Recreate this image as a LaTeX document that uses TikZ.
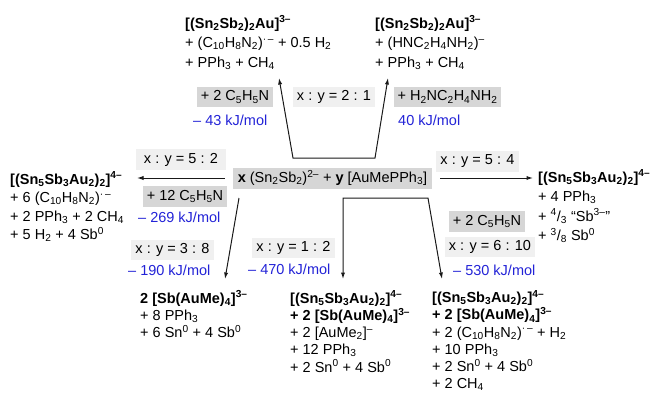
\documentclass[tikz,border=0pt]{standalone}
\usepackage{fontspec}
\setmainfont{Liberation Sans}
\usetikzlibrary{arrows.meta}
\newcommand\sbs[1]{\textsubscript{#1}}
\newcommand\sps[1]{\textsuperscript{#1}}
\newcommand\firstline{\rule{0pt}{14pt}}
\definecolor{kjblue}{RGB}{35,35,215}
\definecolor{boxdark}{RGB}{214,214,214}
\definecolor{boxlight}{RGB}{240,240,240}
\definecolor{linecol}{RGB}{25,25,25}
\begin{document}
\begin{tikzpicture}[x=1pt,y=-1pt,
  font=\fontsize{14.5}{18.5}\selectfont,
  tip/.tip={Latex[length=6.5pt,width=4.2pt]},
  conn/.style={draw=linecol, line width=1pt, -tip},
  conn2/.style={draw=linecol, line width=1pt, tip-tip},
  reag/.style={fill=boxdark, inner xsep=4pt, inner ysep=0pt, minimum height=21pt},
  ratiobox/.style={fill=boxlight, inner xsep=4pt, inner ysep=0pt, minimum height=20pt},
  energy/.style={text=kjblue, anchor=west, inner sep=0pt},
  prod/.style={anchor=north west, align=left, inner sep=0pt},
  top3/.style={font=\fontsize{14.5}{19.5}\selectfont},
  bot/.style={font=\fontsize{14.5}{17.2}\selectfont},
]
\useasboundingbox (0,0) rectangle (657,394);

% central reactants
\node[reag, minimum width=199pt] (c) at (332.5,178)
  {\textbf{x} (Sn\sbs{2}Sb\sbs{2})\sps{2–} + \textbf{y} [AuMePPh\sbs{3}]};

% products
\node[prod, top3] (ptl) at (185,14) {\firstline\textbf{[(Sn\sbs{2}Sb\sbs{2})\sbs{2}Au]\sps{3–}}\\
  + (C\sbs{10}H\sbs{8}N\sbs{2})\sps{·\,–} + 0.5 H\sbs{2}\\
  + PPh\sbs{3} + CH\sbs{4}};
\node[prod, top3] (ptr) at (375,14) {\firstline\textbf{[(Sn\sbs{2}Sb\sbs{2})\sbs{2}Au]\sps{3–}}\\
  + (HNC\sbs{2}H\sbs{4}NH\sbs{2})\sps{–}\\
  + PPh\sbs{3} + CH\sbs{4}};
\node[prod] (pl) at (10,170) {\firstline\textbf{[(Sn\sbs{5}Sb\sbs{3}Au\sbs{2})\sbs{2}]\sps{4–}}\\
  + 6 (C\sbs{10}H\sbs{8}N\sbs{2})\sps{·\,–}\\
  + 2 PPh\sbs{3} + 2 CH\sbs{4}\\
  + 5 H\sbs{2} + 4 Sb\sps{0}};
\node[prod, top3] (pr) at (538,168) {\firstline\textbf{[(Sn\sbs{5}Sb\sbs{3}Au\sbs{2})\sbs{2}]\sps{4–}}\\
  + 4 PPh\sbs{3}\\
  + \sps{4}/\sbs{3} “Sb\sps{3–}”\\
  + \sps{3}/\sbs{8} Sb\sps{0}};
\node[prod, bot] (pb1) at (140,289) {\firstline\textbf{2 [Sb(AuMe)\sbs{4}]\sps{3–}}\\
  + 8 PPh\sbs{3}\\
  + 6 Sn\sps{0} + 4 Sb\sps{0}};
\node[prod, bot] (pb2) at (290,289) {\firstline\textbf{[(Sn\sbs{5}Sb\sbs{3}Au\sbs{2})\sbs{2}]\sps{4–}}\\
  \textbf{+ 2 [Sb(AuMe)\sbs{4}]\sps{3–}}\\
  + 2 [AuMe\sbs{2}]\sps{–}\\
  + 12 PPh\sbs{3}\\
  + 2 Sn\sps{0} + 4 Sb\sps{0}};
\node[prod, bot] (pb3) at (432,288.5) {\firstline\textbf{[(Sn\sbs{5}Sb\sbs{3}Au\sbs{2})\sbs{2}]\sps{4–}}\\
  \textbf{+ 2 [Sb(AuMe)\sbs{4}]\sps{3–}}\\
  + 2 (C\sbs{10}H\sbs{8}N\sbs{2})\sps{·\,–} + H\sbs{2}\\
  + 10 PPh\sbs{3}\\
  + 2 Sn\sps{0} + 4 Sb\sps{0}\\
  + 2 CH\sbs{4}};

% reagent / ratio / energy labels
\node[reag, minimum height=20pt, minimum width=76pt] (r1) at (235,97) {+ 2 C\sbs{5}H\sbs{5}N};
\node[ratiobox, minimum width=82pt] (q21) at (334,97) {x : y = 2 : 1};
\node[reag, minimum height=20pt, minimum width=107pt] (r2) at (447.5,97) {+ H\sbs{2}NC\sbs{2}H\sbs{4}NH\sbs{2}};
\node[energy] (e43) at (193,120) {– 43 kJ/mol};
\node[energy] (e40) at (398,120) {40 kJ/mol};

\node[ratiobox, minimum height=21pt, minimum width=90pt] (q52) at (181,159.5) {x : y = 5 : 2};
\node[reag, minimum width=84pt] (r12) at (185,196.5) {+ 12 C\sbs{5}H\sbs{5}N};
\node[energy] (e269) at (138,217) {– 269 kJ/mol};
\node[ratiobox, minimum width=79pt] (q38) at (172.5,250) {x : y = 3 : 8};
\node[energy] (e190) at (128,270) {– 190 kJ/mol};

\node[ratiobox, minimum width=83pt] (q12) at (293.5,248) {x : y = 1 : 2};
\node[energy] (e470) at (248,269) {– 470 kJ/mol};

\node[ratiobox, minimum height=21pt, minimum width=79pt] (q54) at (477.5,161) {x : y = 5 : 4};
\node[reag, minimum width=73pt] (r2b) at (487,221.5) {+ 2 C\sbs{5}H\sbs{5}N};
\node[ratiobox, minimum width=82pt] (q610) at (490,246.5) {x : y = 6 : 10};
\node[energy] (e530) at (453,270) {– 530 kJ/mol};

% connector coordinates
\coordinate (tipTL) at (279,78);
\coordinate (cupL) at (293,158);
\coordinate (cupR) at (375,158);
\coordinate (tipTR) at (388,78);
\coordinate (tipL) at (137,178);
\coordinate (tipR) at (533,178);
\coordinate (dgS) at (239,198);
\coordinate (tipB1) at (225,279);
\coordinate (tipB2) at (343,279);
\coordinate (botL) at (343,198);
\coordinate (botR) at (428,198);
\coordinate (tipB3) at (442,279);

% connectors
\draw[conn2] (tipTL) -- (cupL) -- (cupR) -- (tipTR);
\draw[conn] ([xshift=-8pt]c.west) -- (tipL);
\draw[conn] ([xshift=8pt]c.east) -- (tipR);
\draw[conn] (dgS) -- (tipB1);
\draw[conn2] (tipB2) -- (botL) -- (botR) -- (tipB3);
\end{tikzpicture}
\end{document}
